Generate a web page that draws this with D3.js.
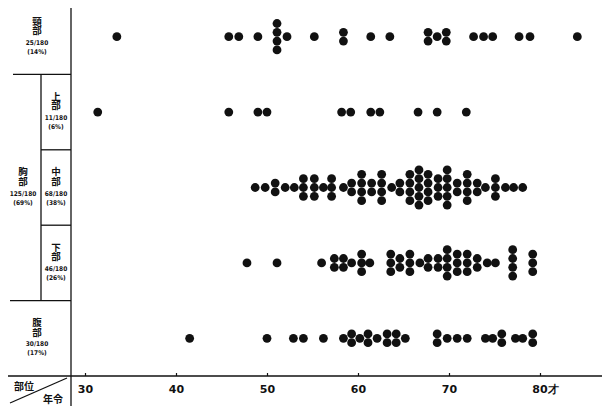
<!DOCTYPE html>
<html>
<head>
<meta charset="utf-8">
<script src="https://cdn.jsdelivr.net/npm/d3@7"></script>
<style>
  body { margin: 0; background: #fff; }
</style>
</head>
<body>
<div id="chart"></div>
<script>
// row labels (left table)
const regions = ["頸部", "上部", "中部", "下部", "腹部"];
const regionCounts = ["25/180", "11/180", "68/180", "46/180", "30/180"];
const regionShares = ["(14%)", "(6%)", "(38%)", "(26%)", "(17%)"];
const thoraxLabel = ["胸部", "125/180", "(69%)"];

// x axis
const ageTicks = [30, 40, 50, 60, 70, 80];
const ageTickLabels = ["30", "40", "50", "60", "70", "80才"];

// ages and number of cases stacked at each age
const neckAges = [33.5, 45.8, 46.9, 49.0, 51.1, 52.2, 55.2, 58.4, 61.4, 63.5, 67.7, 68.7, 69.7, 72.7, 73.8, 74.8, 77.7, 78.9, 84.1];
const neckCounts = [1, 1, 1, 1, 4, 1, 1, 2, 1, 1, 2, 1, 2, 1, 1, 1, 1, 1, 1];

const upperAges = [31.4, 45.8, 49.0, 50.0, 58.2, 59.2, 61.4, 62.4, 66.6, 68.7, 71.9];
const upperCounts = [1, 1, 1, 1, 1, 1, 1, 1, 1, 1, 1];

const middleAges = [48.7, 49.8, 50.9, 52.0, 53.0, 54.0, 55.2, 56.2, 57.1, 58.4, 59.3, 60.4, 61.5, 62.6, 63.7,
  64.6, 65.7, 66.7, 67.7, 68.8, 69.8, 70.9, 72.0, 73.1, 74.0, 75.1, 76.2, 77.1, 78.1];
const middleCounts = [1, 1, 2, 1, 1, 3, 3, 1, 3, 1, 2, 4, 2, 4, 1, 2, 4, 5, 4, 3, 5, 2, 4, 2, 1, 3, 1, 1, 1];

const lowerAges = [47.8, 51.1, 56.0, 57.4, 58.4, 59.3, 60.4, 61.3, 63.6, 64.6, 65.7, 66.8, 67.7, 68.8, 69.8,
  70.9, 72.0, 73.1, 74.2, 75.1, 77.0, 79.2];
const lowerCounts = [1, 1, 1, 2, 2, 1, 3, 1, 3, 2, 3, 1, 2, 2, 4, 3, 3, 2, 1, 1, 4, 3];

const abdomenAges = [41.5, 50.0, 52.9, 54.0, 56.2, 58.4, 59.3, 60.2, 61.1, 62.1, 63.2, 64.2, 65.2, 68.7, 69.8,
  70.9, 72.0, 74.0, 74.8, 75.8, 77.3, 78.1, 79.2];
const abdomenCounts = [1, 1, 1, 1, 1, 1, 2, 1, 2, 1, 2, 2, 1, 2, 1, 1, 1, 1, 1, 2, 1, 1, 2];

(function () {
    const svgWidth = 606;
    const svgHeight = 406;
    const axisY = 376;
    const axisX = 71;
    const dotR = 4.4;
    const stackStep = 8.8;

    const svg = d3.select("#chart")
        .append("svg")
        .attr("width", svgWidth)
        .attr("height", svgHeight)
        .style("font-family", "'Noto Sans CJK JP', 'DejaVu Sans', sans-serif");

    const xScale = d3.scaleLinear()
        .domain([30, 80])
        .range([85, 540]);

    const yScale = d3.scaleBand()
        .domain(regions)
        .range([-1, axisY]);

    const rows = [
        { region: "頸部", ages: neckAges, counts: neckCounts },
        { region: "上部", ages: upperAges, counts: upperCounts },
        { region: "中部", ages: middleAges, counts: middleCounts },
        { region: "下部", ages: lowerAges, counts: lowerCounts },
        { region: "腹部", ages: abdomenAges, counts: abdomenCounts }
    ];

    // flatten into one record per case, stacked vertically around the row centre
    const dots = [];
    rows.forEach(row => {
        row.ages.forEach((age, i) => {
            const n = row.counts[i];
            for (let j = 0; j < n; j++) {
                dots.push({ region: row.region, age: age, offset: (j - (n - 1) / 2) });
            }
        });
    });

    const lines = svg.append("g")
        .attr("stroke", "#111")
        .attr("stroke-width", 1.3)
        .attr("fill", "none");

    const rowTop = r => yScale(r);
    const rowBottom = r => yScale(r) + yScale.bandwidth();

    // frame of the left table
    lines.append("line").attr("x1", axisX).attr("x2", axisX).attr("y1", 8).attr("y2", svgHeight);
    lines.append("line").attr("x1", 8).attr("x2", 602).attr("y1", axisY).attr("y2", axisY);
    lines.append("line").attr("x1", 13).attr("x2", axisX).attr("y1", rowBottom("頸部")).attr("y2", rowBottom("頸部"));
    lines.append("line").attr("x1", 10).attr("x2", axisX).attr("y1", rowBottom("下部")).attr("y2", rowBottom("下部"));
    lines.append("line").attr("x1", 41).attr("x2", 41).attr("y1", rowTop("上部")).attr("y2", rowBottom("下部"));
    lines.append("line").attr("x1", 41).attr("x2", axisX).attr("y1", rowBottom("上部")).attr("y2", rowBottom("上部"));
    lines.append("line").attr("x1", 41).attr("x2", axisX).attr("y1", rowBottom("中部")).attr("y2", rowBottom("中部"));
    lines.append("line").attr("x1", 10).attr("x2", 67).attr("y1", 403).attr("y2", 378);

    // row labels: name written vertically, then count and share
    const labelX = { "頸部": 37, "上部": 56, "中部": 56, "下部": 56, "腹部": 37 };
    const labels = svg.append("g").attr("fill", "#111").attr("text-anchor", "middle");

    function writeLabel(x, cy, name, count, share) {
        labels.append("text")
            .attr("x", x)
            .attr("y", cy - 11)
            .attr("font-size", "9.5px")
            .attr("font-weight", "bold")
            .style("writing-mode", "vertical-rl")
            .text(name);
        const small = labels.append("g")
            .attr("font-size", "6.5px")
            .attr("font-weight", "bold")
            .style("font-family", "'DejaVu Sans Condensed', 'DejaVu Sans', sans-serif");
        small.append("text").attr("x", x).attr("y", cy + 8).text(count);
        small.append("text").attr("x", x).attr("y", cy + 17).text(share);
    }

    regions.forEach((r, i) => {
        const cy = yScale(r) + yScale.bandwidth() / 2;
        writeLabel(labelX[r], cy, r, regionCounts[i], regionShares[i]);
    });
    writeLabel(23, yScale("中部") + yScale.bandwidth() / 2, thoraxLabel[0], thoraxLabel[1], thoraxLabel[2]);

    labels.append("text").attr("x", 24).attr("y", 390)
        .attr("font-size", "10px").attr("font-weight", "bold").text("部位");
    labels.append("text").attr("x", 53).attr("y", 403)
        .attr("font-size", "10px").attr("font-weight", "bold").text("年令");

    // x axis
    const xAxis = d3.axisBottom(xScale)
        .tickValues(ageTicks)
        .tickSizeInner(-3)
        .tickSizeOuter(0)
        .tickPadding(9)
        .tickFormat((d, i) => ageTickLabels[i]);

    const axisG = svg.append("g")
        .attr("transform", `translate(0, ${axisY})`)
        .call(xAxis);
    axisG.select(".domain").remove();
    axisG.selectAll(".tick line").attr("stroke", "#111").attr("stroke-width", 1.2);
    axisG.selectAll(".tick text")
        .attr("fill", "#111")
        .attr("font-size", "11px")
        .attr("font-weight", "bold")
        .style("font-family", "'DejaVu Sans', sans-serif");
    axisG.selectAll(".tick text").filter(d => d === 80).attr("dx", "0.45em");

    // dots
    svg.append("g")
        .selectAll("circle")
        .data(dots)
        .enter()
        .append("circle")
        .attr("cx", d => xScale(d.age))
        .attr("cy", d => yScale(d.region) + yScale.bandwidth() / 2 + d.offset * stackStep)
        .attr("r", dotR)
        .attr("fill", "#111");
})();
</script>
</body>
</html>
